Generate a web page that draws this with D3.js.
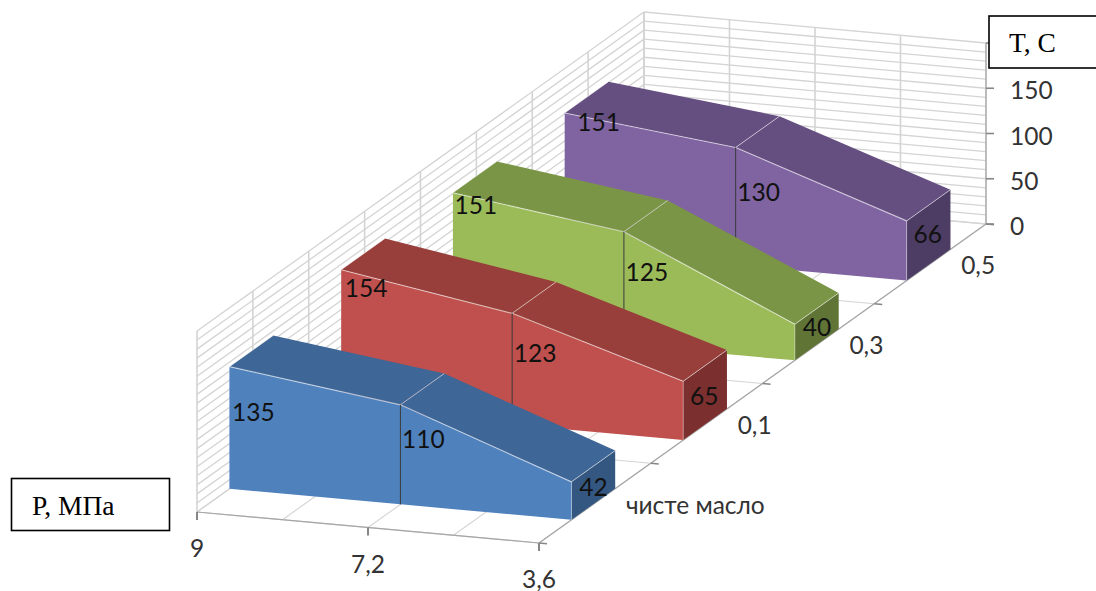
<!DOCTYPE html>
<html>
<head>
<meta charset="utf-8">
<script src="https://cdn.jsdelivr.net/npm/d3@7"></script>
<style>
  html, body { margin: 0; padding: 0; background: #fff; }
  svg { display: block; }
  text { font-family: Lato, "Open Sans", sans-serif; }
</style>
</head>
<body>
<svg id="chart" width="1096" height="591"></svg>
<script>
// Pressure categories along the front edge and additive levels along the depth axis
const pressures = ["9", "7,2", "3,6"];
const additives = ["чисте масло", "0,1", "0,3", "0,5"];
const valueTicks = [0, 50, 100, 150];

// Temperature per additive level, ordered by pressure
const cleanOil = [135, 110, 42];
const additive01 = [154, 123, 65];
const additive03 = [151, 125, 40];
const additive05 = [151, 130, 66];

const seriesValues = [cleanOil, additive01, additive03, additive05];

// Fill shades of each ribbon: front, top, right-hand end
const shades = [
  { front: "#4f81bd", top: "#3e6696", side: "#345781" },
  { front: "#c0504d", top: "#983f3c", side: "#7b2f2e" },
  { front: "#9bbb59", top: "#7a9545", side: "#5f7435" },
  { front: "#8064a2", top: "#654e80", side: "#4d3c63" }
];

// Oblique projection of the chart box
const origin = [197, 512];
const alongX = [342, 31];
const alongDepth = [447, -319];

const xScale = d3.scalePoint().domain(pressures).range([0, 1]);
const depthScale = d3.scaleBand().domain(additives).range([0, 1]).paddingInner(0.608).paddingOuter(0.304).align(0.477);
const heightScale = d3.scaleLinear().domain([0, 200]).range([0, 181]);

const project = (u, v, h = 0) => [
  origin[0] + u * alongX[0] + v * alongDepth[0],
  origin[1] + u * alongX[1] + v * alongDepth[1] - h
];

const svg = d3.select("#chart");
const path = d3.line();
const grid = "#d4d4d4";
const axisGrey = "#a6a6a6";

const segment = (g, a, b, stroke, width) =>
  g.append("path").attr("d", path([a, b])).attr("fill", "none").attr("stroke", stroke).attr("stroke-width", width);

// Walls and floor
const walls = svg.append("g");
d3.range(0, 201, 10).forEach(t => {
  const h = heightScale(t);
  segment(walls, project(0, 0, h), project(0, 1, h), grid, 1.3);
  segment(walls, project(0, 1, h), project(1, 1, h), grid, 1.3);
});
d3.range(0, 9).forEach(k => {
  const v = k / 8;
  segment(walls, project(0, v), project(0, v, heightScale(200)), grid, 1.6);
  segment(walls, project(0, v), project(1, v), grid, 1.1);
});
d3.range(0, 5).forEach(k => {
  const u = k / 4;
  segment(walls, project(u, 0), project(u, 1), grid, 1.1);
  segment(walls, project(u, 1), project(u, 1, heightScale(200)), grid, 1.6);
});

// Axis lines and tick marks
const axes = svg.append("g");
segment(axes, project(0, 0), project(1, 0), axisGrey, 1.2);
segment(axes, project(1, 0), project(1, 1), axisGrey, 1.2);
segment(axes, project(1, 1), project(1, 1, heightScale(200)), axisGrey, 1.2);
pressures.forEach(p => {
  const a = project(xScale(p), 0);
  segment(axes, a, [a[0], a[1] + 8], "#868686", 2);
});
d3.range(0, 5).forEach(k => {
  const a = project(1, k / 4);
  segment(axes, a, [a[0] + 8, a[1] + 0.7], "#868686", 1.6);
});
d3.range(0, 201, 50).forEach(t => {
  const a = project(1, 1, heightScale(t));
  segment(axes, a, [a[0] + 8, a[1]], "#868686", 1.6);
});

// Ribbons, drawn back to front so nearer ones cover farther ones
const ribbonOrder = d3.range(additives.length).reverse();
const labelShift = [
  [[24, 45], [23, 34], [22, 5]],
  [[25, 18], [23, 39], [21, 14]],
  [[23, 12], [23, 40], [22, 2]],
  [[34, 9], [23, 44], [21, 13]]
];

ribbonOrder.forEach(i => {
  const g = svg.append("g");
  const near = depthScale(additives[i]);
  const far = near + depthScale.bandwidth();
  const vals = seriesValues[i];
  const us = pressures.map(p => xScale(p));
  const hs = vals.map(v => heightScale(v));
  const face = shades[i];

  // Sloped top faces
  d3.pairs(d3.range(us.length)).forEach(([a, b]) => {
    g.append("path")
      .attr("d", path([project(us[a], near, hs[a]), project(us[b], near, hs[b]), project(us[b], far, hs[b]), project(us[a], far, hs[a])]) + "Z")
      .attr("fill", face.top);
  });

  // Right-hand end
  const last = us.length - 1;
  g.append("path")
    .attr("d", path([project(us[last], near), project(us[last], near, hs[last]), project(us[last], far, hs[last]), project(us[last], far)]) + "Z")
    .attr("fill", face.side);

  // Front face
  const outline = us.map((u, k) => project(u, near, hs[k]))
    .concat(us.map(u => project(u, near)).reverse());
  g.append("path").attr("d", path(outline) + "Z").attr("fill", face.front);

  // Edges
  const light = "rgba(255,255,255,0.55)";
  d3.pairs(d3.range(us.length)).forEach(([a, b]) => {
    segment(g, project(us[a], near, hs[a]), project(us[b], near, hs[b]), light, 1.2);
  });
  us.forEach((u, k) => segment(g, project(u, near, hs[k]), project(u, far, hs[k]), light, 1));
  segment(g, project(us[1], near), project(us[1], near, hs[1]), "#3a3a3a", 1);
  segment(g, project(us[last], near), project(us[last], near, hs[last]), "rgba(255,255,255,0.35)", 1);

  // Value labels
  vals.forEach((v, k) => {
    const p = project(us[k], near, hs[k]);
    g.append("text")
      .attr("x", p[0] + labelShift[i][k][0])
      .attr("y", p[1] + labelShift[i][k][1])
      .attr("text-anchor", "middle")
      .attr("dominant-baseline", "central")
      .attr("font-size", 24.5)
      .attr("fill", "#111")
      .text(v);
  });
});

// Axis labels
const tickText = (x, y, s, anchor = "middle") =>
  svg.append("text").attr("x", x).attr("y", y).attr("text-anchor", anchor)
    .attr("dominant-baseline", "central").attr("font-size", 24.5).attr("fill", "#333").text(s);

pressures.forEach(p => {
  const a = project(xScale(p), 0);
  tickText(a[0], a[1] + 35.5, p);
});
additives.forEach((s, k) => {
  const a = project(1, (k + 0.5) / 4);
  if (k === 0) tickText(a[0] + 31, a[1] + 1, s, "start");
  else tickText(a[0] + 48, a[1] + 1, s, "middle");
});
valueTicks.forEach(t => {
  const a = project(1, 1, heightScale(t));
  tickText(a[0] + 24, a[1] + 1.5, t, "start");
});

// Captions in boxes
const caption = (x, y, w, h, s, tx, ty) => {
  svg.append("rect").attr("x", x).attr("y", y).attr("width", w).attr("height", h)
    .attr("fill", "#fff").attr("stroke", "#000").attr("stroke-width", 1.6);
  svg.append("text").attr("x", tx).attr("y", ty).attr("font-size", 27.5)
    .style("font-family", '"Liberation Serif", serif').attr("fill", "#000").text(s);
};
caption(989, 16, 120, 52, "T, C", 1009, 52);
caption(11.5, 478.5, 158, 52, "P, МПа", 32, 515);
</script>
</body>
</html>
